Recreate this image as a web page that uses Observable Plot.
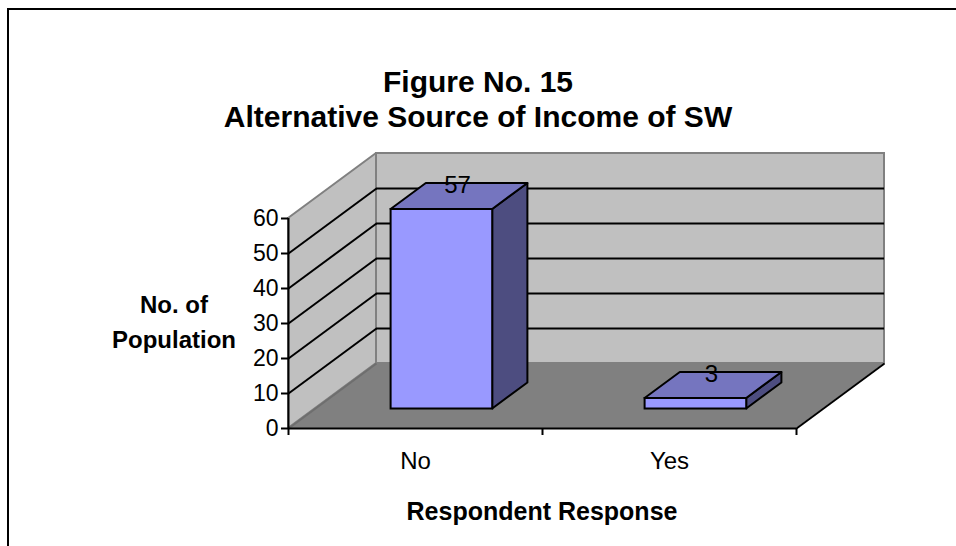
<!DOCTYPE html>
<html>
<head>
<meta charset="utf-8">
<script src="https://cdn.jsdelivr.net/npm/d3@7"></script>
<script src="https://cdn.jsdelivr.net/npm/@observablehq/plot@0.6"></script>
<style>
  body { margin: 0; background: #fff; font-family: Arial, "Liberation Sans", sans-serif; }
  #chart { position: relative; width: 956px; height: 546px; overflow: hidden; background: #fff; }
  #chart svg { position: absolute; left: 0; top: 0; }
  .frame { position: absolute; left: 7px; top: 8px; width: 1200px; height: 800px;
           border-left: 2px solid #000; border-top: 2px solid #000; box-sizing: border-box; }
  .title { position: absolute; left: 0; width: 956px; text-align: center; font-weight: bold;
           font-size: 30px; line-height: 30px; white-space: nowrap; color: #000; }
  .ytitle { position: absolute; left: 74px; width: 200px; top: 287px; text-align: center;
            font-weight: bold; font-size: 24px; line-height: 35px; color: #000; }
  .xtitle { position: absolute; left: 342px; width: 400px; top: 499px; text-align: center;
            font-weight: bold; font-size: 25px; line-height: 25px; color: #000; }
</style>
</head>
<body>
<div id="chart">
  <div class="frame"></div>
  <div class="title" style="top:67px">Figure No. 15</div>
  <div class="title" style="top:102px">Alternative Source of Income of SW</div>
  <div class="ytitle">No. of<br>Population</div>
  <div class="xtitle">Respondent Response</div>
</div>
<script>
// Survey answers and their counts
const categories = ["No", "Yes"];
const counts = [57, 3];
const yTicks = [0, 10, 20, 30, 40, 50, 60];
const gridValues = [10, 20, 30, 40, 50];
const yMax = 60;

// Layout of the front plane and the oblique depth of the 3-D box
const W = 956, H = 546;
const M = {left: 288, right: 160, top: 218, bottom: 118};
const DEPTH_PX = [88, 65];               // back plane offset (right, up), px
const pxPerX = (W - M.left - M.right) / categories.length;
const pxPerY = (H - M.top - M.bottom) / yMax;
const DX = DEPTH_PX[0] / pxPerX;         // depth offset in x data units
const DY = DEPTH_PX[1] / pxPerY;         // depth offset in y data units
const nCat = categories.length;

// Bars sit in the middle of the depth, 40% of a band wide
const HALF = 0.2, Z0 = 0.3, Z1 = 0.7;
const bars = counts.map((v, i) => ({i, v, c: i + 0.5}));

const sideFaces = bars.flatMap(b => [Z0, Z1].map(z => ({
  k: b.i, x: b.c + HALF + z * DX, y1: z * DY, y2: b.v + z * DY
})));
const topFaces = bars.flatMap(b => [Z0, Z1].map(z => ({
  k: b.i, y: b.v + z * DY, x1: b.c - HALF + z * DX, x2: b.c + HALF + z * DX
})));

const sideWall = [0, 1].map(z => ({x: z * DX, y1: z * DY, y2: yMax + z * DY}));
const floor = [0, 1].map(z => ({y: z * DY, x1: z * DX, x2: nCat + z * DX}));

const wallFill = "#c0c0c0", wallEdge = "#808080", floorFill = "#808080";

const plot = Plot.plot({
  width: W,
  height: H,
  marginLeft: M.left,
  marginRight: M.right,
  marginTop: M.top,
  marginBottom: M.bottom,
  x: {type: "linear", domain: [0, nCat]},
  y: {type: "linear", domain: [0, yMax]},
  style: {overflow: "visible", background: "transparent", color: "#000",
          fontFamily: "Arial, 'Liberation Sans', sans-serif"},
  marks: [
    // walls and floor
    Plot.areaY(sideWall, {x: "x", y1: "y1", y2: "y2", fill: wallFill, stroke: wallEdge, strokeWidth: 2}),
    Plot.rect([0], {x1: DX, x2: nCat + DX, y1: DY, y2: yMax + DY,
                    fill: wallFill, stroke: wallEdge, strokeWidth: 2}),
    Plot.areaX(floor, {y: "y", x1: "x1", x2: "x2", fill: floorFill}),
    Plot.link([0], {x1: 0, y1: 0, x2: DX, y2: DY, stroke: "#6e6e6e", strokeWidth: 2}),
    Plot.link([nCat], {x1: d => d, y1: 0, x2: d => d + DX, y2: DY, stroke: "#000", strokeWidth: 2}),
    // gridlines on the side and back walls
    Plot.link(gridValues, {x1: 0, y1: d => d, x2: DX, y2: d => d + DY, stroke: "#000", strokeWidth: 2}),
    Plot.ruleY(gridValues, {y: d => d + DY, x1: DX, x2: nCat + DX, stroke: "#000", strokeWidth: 2}),
    // axis lines
    Plot.ruleX([0], {y1: 0, y2: yMax, stroke: "#000", strokeWidth: 2}),
    Plot.ruleY([0], {x1: 0, x2: nCat, stroke: "#000", strokeWidth: 2}),
    // bars: side, top, front
    Plot.areaY(sideFaces, {x: "x", y1: "y1", y2: "y2", z: "k", fill: "#4d4d80",
                           stroke: "#000", strokeWidth: 2, strokeLinejoin: "round"}),
    Plot.areaX(topFaces, {y: "y", x1: "x1", x2: "x2", z: "k", fill: "#7575bf",
                          stroke: "#000", strokeWidth: 2, strokeLinejoin: "round"}),
    Plot.rect(bars, {x1: d => d.c - HALF + Z0 * DX, x2: d => d.c + HALF + Z0 * DX,
                     y1: Z0 * DY, y2: d => d.v + Z0 * DY,
                     fill: "#9999ff", stroke: "#000", strokeWidth: 2}),
    // value labels above the bars
    Plot.text(bars, {x: d => d.c + 0.5 * DX, y: d => d.v + 0.5 * DY, text: d => String(d.v),
                     dx: -2, dy: -11, fontSize: 24, lineAnchor: "middle", fill: "#000"}),
    // axes
    Plot.axisY(yTicks, {tickSize: 7, tickPadding: 3, fontSize: 23, strokeWidth: 2, label: null}),
    Plot.axisX(d3.range(nCat + 1), {tickSize: 7, tickFormat: () => "", strokeWidth: 2, label: null}),
    Plot.text(categories, {x: (d, i) => i + 0.5, y: 0, dy: 33, fontSize: 24,
                           lineAnchor: "middle", fill: "#000"})
  ]
});
document.getElementById("chart").appendChild(plot);
</script>
</body>
</html>
